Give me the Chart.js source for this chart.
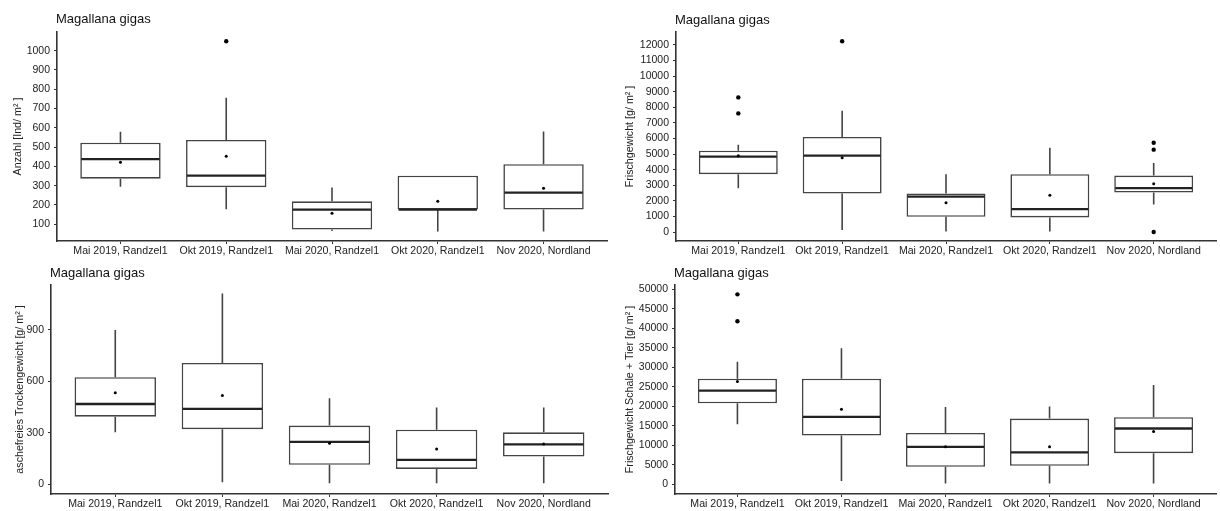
<!DOCTYPE html>
<html>
<head>
<meta charset="utf-8">
<script src="https://cdn.jsdelivr.net/npm/chart.js@4.4.0/dist/chart.umd.min.js"></script>
<style>
  body { margin: 0; background: #fff; width: 1220px; height: 511px; position: relative; overflow: hidden; }
  canvas { position: absolute; }
</style>
</head>
<body>
<canvas id="c1" width="612" height="258" style="left:0;top:0"></canvas>
<canvas id="c2" width="610" height="258" style="left:610px;top:0"></canvas>
<canvas id="c3" width="612" height="261" style="left:0;top:250px"></canvas>
<canvas id="c4" width="610" height="261" style="left:610px;top:250px"></canvas>
<script>
const categories = ['Mai 2019, Randzel1', 'Okt 2019, Randzel1', 'Mai 2020, Randzel1', 'Okt 2020, Randzel1', 'Nov 2020, Nordland'];

// Anzahl
const anzahlMin = [295, 178, 65, 62, 62];
const anzahlQ1 = [336, 292, 72, 176, 176];
const anzahlMedian = [438, 352, 176, 176, 264];
const anzahlQ3 = [523, 537, 219, 352, 411];
const anzahlMax = [580, 756, 290, 352, 581];
const anzahlMean = [421, 452, 157, 219, 287];
const anzahlOutliers = [[], [1049], [], [], []];
const anzahlTicks = [100, 200, 300, 400, 500, 600, 700, 800, 900, 1000];

// Frischgewicht
const frischMin = [2813, 128, 40, 40, 1765];
const frischQ1 = [3708, 2468, 978, 934, 2532];
const frischMedian = [4833, 4897, 2276, 1470, 2813];
const frischQ3 = [5217, 6092, 2468, 3708, 3618];
const frischMax = [5600, 7774, 3708, 5409, 4430];
const frischMean = [4897, 4769, 1873, 2365, 3088];
const frischOutliers = [[8630, 7607], [12230], [], [], [5728, 5281, 0]];
const frischTicks = [0, 1000, 2000, 3000, 4000, 5000, 6000, 7000, 8000, 9000, 10000, 11000, 12000];

// aschefreies Trockengewicht
const aftgMin = [303, 12, 5, 5, 5];
const aftgQ1 = [394, 321, 113, 89, 161];
const aftgMedian = [468, 439, 247, 142, 233];
const aftgQ3 = [624, 707, 342, 318, 303];
const aftgMax = [900, 1112, 502, 447, 447];
const aftgMean = [534, 517, 239, 206, 235];
const aftgOutliers = [[], [], [], [], []];
const aftgTicks = [0, 300, 600, 900];

// Frischgewicht Schale + Tier
const schaleMin = [15406, 843, 200, 200, 200];
const schaleQ1 = [20772, 12520, 4497, 4752, 7997];
const schaleMedian = [24017, 17272, 9607, 8176, 14308];
const schaleQ3 = [27083, 27083, 13184, 16863, 17196];
const schaleMax = [31427, 34900, 19827, 19930, 25450];
const schaleMean = [26392, 19240, 9607, 9607, 13542];
const schaleOutliers = [[48700, 41800], [], [], [], []];
const schaleTicks = [0, 5000, 10000, 15000, 20000, 25000, 30000, 35000, 40000, 45000, 50000];

const FONT = "'Liberation Sans', Arial, sans-serif";

function boxPlugin(st, title, titleY) {
  return {
    id: 'boxes',
    afterDatasetDraw(chart, args) {
      if (args.index !== 0) return;
      const { ctx, scales: { x, y } } = chart;
      const meta = chart.getDatasetMeta(0);
      ctx.save();
      st.q1.forEach((q, i) => {
        const cx = x.getPixelForValue(i + 1);
        const half = meta.data[i].width / 2;
        // whiskers
        ctx.strokeStyle = '#444';
        ctx.lineWidth = 1.6;
        ctx.beginPath();
        ctx.moveTo(cx, y.getPixelForValue(st.q3[i]));
        ctx.lineTo(cx, y.getPixelForValue(st.max[i]));
        ctx.moveTo(cx, y.getPixelForValue(q));
        ctx.lineTo(cx, y.getPixelForValue(st.min[i]));
        ctx.stroke();
        // median
        ctx.strokeStyle = '#222';
        ctx.lineWidth = 2.3;
        ctx.beginPath();
        const my = y.getPixelForValue(st.median[i]);
        ctx.moveTo(cx - half + 1, my);
        ctx.lineTo(cx + half - 1, my);
        ctx.stroke();
      });
      ctx.restore();
    },
    afterDraw(chart) {
      const { ctx, chartArea } = chart;
      ctx.save();
      ctx.font = '13px ' + FONT;
      ctx.fillStyle = '#111';
      ctx.textBaseline = 'middle';
      ctx.fillText(title, chartArea.left - 1, titleY);
      ctx.restore();
    }
  };
}

function makePanel(id, st, yTitle, yTicks, yMin, yMax, yWidth, padRight, padTop, titleY, yTitlePad) {
  const outlierPts = [];
  st.outliers.forEach((list, i) => list.forEach(v => outlierPts.push({ x: i + 1, y: v })));
  new Chart(document.getElementById(id), {
    type: 'bar',
    data: {
      datasets: [
        {
          data: st.q1.map((q, i) => ({ x: i + 1, y: [q, st.q3[i]] })),
          backgroundColor: '#fff',
          borderColor: '#444',
          borderWidth: 1.6,
          borderSkipped: false,
          barPercentage: 0.76,
          categoryPercentage: 1,
          order: 3
        },
        {
          type: 'scatter',
          data: st.mean.map((m, i) => ({ x: i + 1, y: m })),
          pointRadius: 1.5,
          pointBackgroundColor: '#000',
          pointBorderWidth: 0,
          order: 1
        },
        {
          type: 'scatter',
          data: outlierPts,
          pointRadius: 2.2,
          pointBackgroundColor: '#000',
          pointBorderWidth: 0,
          order: 2
        }
      ]
    },
    options: {
      responsive: false,
      animation: false,
      devicePixelRatio: 1,
      layout: { padding: { left: 0, right: padRight, top: padTop, bottom: 0 } },
      plugins: { legend: { display: false }, tooltip: { enabled: false } },
      scales: {
        x: {
          type: 'linear',
          min: 0.4,
          max: 5.6,
          offset: false,
          afterBuildTicks: s => { s.ticks = categories.map((c, i) => ({ value: i + 1 })); },
          afterFit: s => { s.height = 17; },
          ticks: {
            callback: v => categories[v - 1],
            color: '#222',
            font: { family: FONT, size: 10.6 },
            padding: 1,
            maxRotation: 0,
            autoSkip: false
          },
          grid: { drawOnChartArea: false, drawTicks: true, tickLength: 3, color: '#333', offset: false },
          border: { display: true, color: '#333', width: 1.6 }
        },
        y: {
          min: yMin,
          max: yMax,
          afterBuildTicks: s => { s.ticks = yTicks.map(v => ({ value: v })); },
          afterFit: s => { s.width = yWidth; },
          ticks: {
            callback: v => String(v),
            color: '#222',
            font: { family: FONT, size: 10.5 },
            padding: 4
          },
          grid: { drawOnChartArea: false, drawTicks: true, tickLength: 3, color: '#333' },
          border: { display: true, color: '#333', width: 1.6 },
          title: {
            display: true,
            text: yTitle,
            color: '#222',
            font: { family: FONT, size: 10.7 },
            padding: { top: yTitlePad, bottom: 0 }
          }
        }
      }
    },
    plugins: [boxPlugin(st, 'Magallana gigas', titleY)]
  });
}

makePanel('c1', { min: anzahlMin, q1: anzahlQ1, median: anzahlMedian, q3: anzahlQ3, max: anzahlMax, mean: anzahlMean, outliers: anzahlOutliers },
  'Anzahl [Ind/ m² ]', anzahlTicks, 13, 1097, 57, 5, 32, 19, 12);
makePanel('c2', { min: frischMin, q1: frischQ1, median: frischMedian, q3: frischQ3, max: frischMax, mean: frischMean, outliers: frischOutliers },
  'Frischgewicht [g/ m² ]', frischTicks, -575, 12824, 66, 2, 32, 20, 14);
makePanel('c3', { min: aftgMin, q1: aftgQ1, median: aftgMedian, q3: aftgQ3, max: aftgMax, mean: aftgMean, outliers: aftgOutliers },
  'aschefreies Trockengewicht [g/ m² ]', aftgTicks, -57, 1162, 51, 4, 35, 23, 14);
makePanel('c4', { min: schaleMin, q1: schaleQ1, median: schaleMedian, q3: schaleQ3, max: schaleMax, mean: schaleMean, outliers: schaleOutliers },
  'Frischgewicht Schale + Tier [g/ m² ]', schaleTicks, -2478, 51100, 65, 2, 35, 23, 14);
</script>
</body>
</html>
